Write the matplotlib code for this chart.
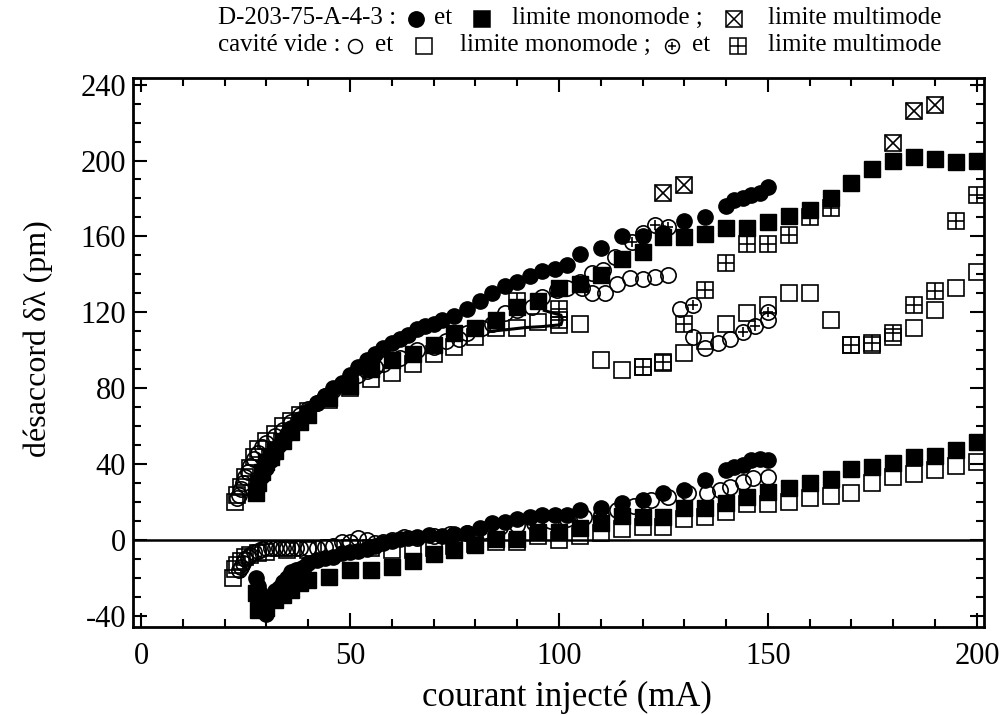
"""
Desaccord en fonction du courant injecte : laser D-203-75-A-4-3 et cavite vide
"""

import matplotlib
matplotlib.use("Agg")
import matplotlib.pyplot as plt
from matplotlib.lines import Line2D
from matplotlib.ticker import MultipleLocator

plt.rcParams['font.family'] = ['Liberation Serif', 'DejaVu Sans']
plt.rcParams['axes.unicode_minus'] = False

# D-203-75-A-4-3, cercles pleins (branche haute / basse)
dev_circ_hi_x = [28, 29, 30, 31, 32, 33, 34, 35, 36, 38, 40, 42, 44, 46, 48, 50, 52, 54,
                 56, 58, 60, 62, 64, 66, 68, 70, 72, 75, 78, 81, 84, 87, 90, 93, 96, 99,
                 102, 105, 110, 115, 120, 125, 130, 135, 140, 142, 144, 146, 148, 150]
dev_circ_hi_y = [30, 34, 38, 42, 46, 50, 53, 56, 59, 64, 68, 72, 76, 80, 83, 87, 91, 95,
                 98, 101, 104, 106, 108, 111, 113, 114, 116, 118, 122, 126, 130, 134, 136,
                 139, 142, 143, 145, 151, 154, 160, 160, 162, 168, 170, 176, 179, 180, 182,
                 183, 186]
dev_circ_lo_x = [27.5, 28, 28.5, 29, 30, 31, 32, 33, 34, 35, 36, 37, 38, 39, 40, 42, 44,
                 46, 48, 50, 52, 54, 56, 58, 60, 62, 64, 66, 69, 72, 75, 78, 81, 84, 87,
                 90, 93, 96, 99, 102, 105, 110, 115, 120, 125, 130, 135, 140, 142, 144,
                 146, 148, 150]
dev_circ_lo_y = [-20, -24, -28, -33, -39, -30, -27, -25, -22, -20, -17, -16, -15, -14,
                 -12, -10.5, -9.5, -9, -7, -6.5, -5.5, -4.5, -3, -1.5, -0.5, 0.5, 1, 1.5,
                 2.6, 2.2, 3.2, 3.7, 6.3, 8.9, 9.5, 11, 12, 13.2, 13.2, 13.2, 15.8, 16.8,
                 19.5, 21, 24.7, 26.3, 31.6, 36.8, 38.4, 39.5, 42, 43, 42]

# D-203-75-A-4-3, limite monomode (carres pleins)
dev_sq_hi_x = [27.5, 28, 29, 30, 31, 32, 34, 36, 38, 40, 45, 50, 55, 60, 65, 70, 75, 80,
               85, 90, 95, 100, 105, 110, 115, 120, 125, 130, 135, 140, 145, 150, 155,
               160, 165, 170, 175, 180, 185, 190, 195, 200]
dev_sq_hi_y = [25, 30, 36, 41, 44, 47, 52, 57, 62, 66, 75, 81, 90, 95, 98, 103, 109, 112,
               116, 122.6, 126, 132.6, 134.7, 139.5, 148, 151.6, 159.5, 159.5, 161.5,
               164.7, 164.7, 167.4, 170.5, 173.7, 180, 188.4, 195.3, 199.5, 201.6, 201,
               199, 199.5]
dev_sq_lo_x = [27.5, 28, 30, 32, 34, 36, 38, 40, 45, 50, 55, 60, 65, 70, 75, 80, 85, 90,
               95, 100, 105, 110, 115, 120, 125, 130, 135, 140, 145, 150, 155, 160, 165,
               170, 175, 180, 185, 190, 195, 200]
dev_sq_lo_y = [-28, -37, -36, -31.6, -29, -26.3, -22.6, -21, -19.5, -15.8, -15.8, -14.2,
               -11, -7.5, -5.3, -2.6, 0.5, 0.5, 4.2, 4.2, 6.3, 9, 12.6, 12, 12.3, 16.8,
               16.8, 19.5, 22.6, 25.3, 27.4, 30, 32, 37.4, 38.4, 40.5, 43.7, 44.2, 47.4,
               51.6]

# D-203-75-A-4-3, limite multimode
dev_multi_x = [125, 130, 180, 185, 190]
dev_multi_y = [183, 187, 209, 226, 229]

# cavite vide, cercles ouverts
cav_circ_hi_x = [23, 23.5, 24, 24.5, 25, 25.5, 26, 27, 28, 29, 30, 32, 34, 36, 38, 40, 42,
                 44, 46, 48, 50, 52, 54, 56, 58, 60, 62, 66, 70, 73, 76, 78, 81.5, 84, 87,
                 90, 93.5, 96, 99.5, 102, 105, 108, 110.5, 113.5, 120, 105.5, 108, 111,
                 114, 117, 120, 123, 126, 129, 132, 135, 138, 141, 150]
cav_circ_hi_y = [22, 24, 27, 30, 33, 36, 39, 43, 46, 49, 51, 55, 58, 62, 66, 69, 72, 76,
                 79, 82, 85, 87, 89, 91, 93, 95, 96, 100, 102, 105, 106, 109, 112, 114,
                 119.5, 121, 122.6, 128, 131.6, 133, 136, 140.5, 142.5, 149, 161.6, 133,
                 130, 130, 135, 138, 137.5, 138.5, 139.5, 122, 107, 101, 104, 106, 116]
cav_circ_lo_x = [23.5, 24, 24.5, 25, 25.5, 26, 27, 28, 29, 30, 31, 32, 33, 34, 35, 36, 37,
                 38, 40, 42, 44, 46, 48, 50, 52, 54, 56, 58, 60, 63, 66, 70, 74, 78, 82,
                 86, 90, 94, 98, 102, 106, 110, 114, 118, 122, 126, 131, 135.5, 138.5,
                 141, 144, 146.5, 150]
cav_circ_lo_y = [-16, -14, -12, -10, -9, -8, -6.5, -5.5, -4.5, -4.2, -4, -4, -4, -4, -4,
                 -4, -4, -4, -4, -4, -3.7, -3, -1, -1, 1, 0, -1.6, -1, 0, 1.6, 1, 2, 3,
                 3.5, 5, 7, 8, 9, 10, 11, 12, 13, 16, 18, 21, 22.6, 24.7, 24.7, 26.3, 28,
                 30.5, 32.6, 33.2]

# cavite vide, cercles barres (limite multimode)
cav_circ_multi_x = [117.5, 123, 126, 132, 144, 147, 150]
cav_circ_multi_y = [157, 166, 165, 124, 109.5, 113, 120]

# cavite vide, limite monomode (carres ouverts)
cav_sq_hi_x = [22.5, 23, 24, 25, 26, 27, 28, 30, 32, 34, 36, 38, 40, 45, 50, 55, 60, 65,
               70, 75, 80, 85, 90, 95, 100, 105, 110, 115, 120, 125, 130, 135, 140, 145,
               150, 155, 160, 165, 170, 175, 180, 185, 190, 195, 200]
cav_sq_hi_y = [20, 24, 28, 33, 38, 44, 48, 52, 56, 60, 63, 66, 68, 74, 80, 85, 88, 93,
               98, 101.6, 106.8, 111.6, 111.6, 114.7, 113.2, 113.7, 94.7, 89.5, 91, 93.5,
               98.4, 105, 114, 119.5, 123.7, 130, 130, 115.8, 102.6, 102.6, 107, 112, 121,
               132.6, 141]
cav_sq_lo_x = [22, 22.5, 23, 24, 25, 26, 28, 30, 35, 40, 45, 50, 55, 60, 65, 70, 75, 80,
               85, 90, 95, 100, 105, 110, 115, 120, 125, 130, 135, 140, 145, 150, 155,
               160, 165, 170, 175, 180, 185, 190, 195, 200]
cav_sq_lo_y = [-20, -15, -13, -11, -9, -8, -7, -6, -5, -5, -4, -4, -4, -5, -5, -4, -3,
               -2, -1, -1, 2, 0, 2, 4, 6, 7, 7, 11, 12, 15, 19, 19, 20, 22, 23, 25, 30,
               33, 35, 37, 39, 41]

# cavite vide, limite multimode (carres quadrilles)
cav_multi_x = [90, 100, 100, 120, 125, 130, 135, 140, 145, 150, 155, 160, 165, 170, 175,
               180, 185, 190, 195, 200]
cav_multi_y = [126, 122, 116, 91, 93.7, 114, 132, 146, 156, 156, 161, 170, 175, 103, 104,
               109, 124, 131, 168, 182]

# trait continu
trace_x = [83.5, 88, 92, 96, 100.5, 100.8, 100.5, 98, 96.5]
trace_y = [110, 111, 112, 112.5, 113.5, 116, 118.5, 120, 121]


def headerMark(fig, xpx, ypx, marker, ms, filled=False, overlay=None, overlay_ms=None):
    """
    Places a legend marker in the header, in pixel coordinates of the figure
    """
    x = xpx / 1001
    y = 1 - ypx / 715
    mfc = 'black' if filled else 'none'
    fig.add_artist(Line2D([x], [y], marker=marker, ms=ms, mfc=mfc, mec='black',
                          mew=1.1, ls='none', transform=fig.transFigure))
    if overlay:
        fig.add_artist(Line2D([x], [y], marker=overlay, ms=overlay_ms, mec='black',
                              mew=1.1, ls='none', transform=fig.transFigure))


def headerText(fig, xpx, ypx, txt):
    fig.text(xpx / 1001, 1 - ypx / 715, txt, fontsize=18, va='center', ha='left')


def plotChart():
    fig = plt.figure(figsize=(10.01, 7.15), dpi=100)
    ax = fig.add_axes([0.1329, 0.123, 0.8501, 0.768])

    open_sq = dict(marker='s', ms=12, mfc='none', mec='black', mew=1.2, ls='none')
    open_ci = dict(marker='o', ms=11, mfc='none', mec='black', mew=1.2, ls='none')

    ax.axhline(0, color='black', lw=1.8, zorder=1)

    # cavite vide (ouverts)
    ax.plot(cav_sq_hi_x, cav_sq_hi_y, **open_sq)
    ax.plot(cav_sq_lo_x, cav_sq_lo_y, **open_sq)
    ax.plot(cav_multi_x, cav_multi_y, **open_sq)
    ax.plot(cav_multi_x, cav_multi_y, marker='+', ms=12, mec='black', mew=1.2, ls='none')
    ax.plot(cav_circ_hi_x, cav_circ_hi_y, **open_ci)
    ax.plot(cav_circ_lo_x, cav_circ_lo_y, **open_ci)
    ax.plot(cav_circ_multi_x, cav_circ_multi_y, **open_ci)
    ax.plot(cav_circ_multi_x, cav_circ_multi_y, marker='+', ms=7, mec='black', mew=1.2,
            ls='none')
    ax.plot(trace_x, trace_y, color='black', lw=2.2)

    # D-203-75-A-4-3 (pleins)
    ax.plot(dev_multi_x, dev_multi_y, **open_sq)
    ax.plot(dev_multi_x, dev_multi_y, marker='x', ms=12, mec='black', mew=1.2, ls='none')
    ax.plot(dev_sq_hi_x, dev_sq_hi_y, marker='s', ms=12, color='black', ls='none')
    ax.plot(dev_sq_lo_x, dev_sq_lo_y, marker='s', ms=12, color='black', ls='none')
    ax.plot(dev_circ_hi_x, dev_circ_hi_y, marker='o', ms=11, color='black', ls='none')
    ax.plot(dev_circ_lo_x, dev_circ_lo_y, marker='o', ms=11, color='black', ls='none')

    ax.set_xlim(-1.9, 201.7)
    ax.set_ylim(-45.8, 243.5)
    ax.xaxis.set_major_locator(MultipleLocator(50))
    ax.xaxis.set_minor_locator(MultipleLocator(10))
    ax.yaxis.set_major_locator(MultipleLocator(40))
    ax.yaxis.set_minor_locator(MultipleLocator(10))
    ax.tick_params(which='both', direction='in', top=True, right=True, width=1.5,
                   labelsize=22)
    ax.tick_params(which='major', length=10)
    ax.tick_params(which='minor', length=5.5)
    ax.tick_params(axis='x', pad=11)
    ax.tick_params(axis='y', pad=5)
    for sp in ax.spines.values():
        sp.set_linewidth(2)

    ax.set_xlabel('courant injecté (mA)', fontsize=25)
    ax.set_ylabel('désaccord δλ (pm)', fontsize=23)
    ax.xaxis.label.set_va('center')
    ax.yaxis.label.set_va('center')
    ax.xaxis.set_label_coords(0.51, -0.1275)
    ax.yaxis.set_label_coords(-0.1116, 0.526)

    # en-tete, ligne 1
    headerText(fig, 218, 18, 'D-203-75-A-4-3 :')
    headerMark(fig, 416, 19, 'o', 11, filled=True)
    headerText(fig, 434, 18, 'et')
    headerMark(fig, 482, 19, 's', 12, filled=True)
    headerText(fig, 512, 18, 'limite monomode ;')
    headerMark(fig, 734, 19, 's', 12, overlay='x', overlay_ms=12)
    headerText(fig, 768, 18, 'limite multimode')

    # en-tete, ligne 2
    headerText(fig, 218, 45, 'cavité vide :')
    headerMark(fig, 355, 46, 'o', 10)
    headerText(fig, 375, 45, 'et')
    headerMark(fig, 424, 46, 's', 11)
    headerText(fig, 460, 45, 'limite monomode ;')
    headerMark(fig, 672, 46, 'o', 10, overlay='+', overlay_ms=6)
    headerText(fig, 692, 45, 'et')
    headerMark(fig, 738, 46, 's', 11, overlay='+', overlay_ms=11)
    headerText(fig, 768, 45, 'limite multimode')

    fig.savefig('out.png', dpi=100)


if __name__ == "__main__":
    plotChart()
